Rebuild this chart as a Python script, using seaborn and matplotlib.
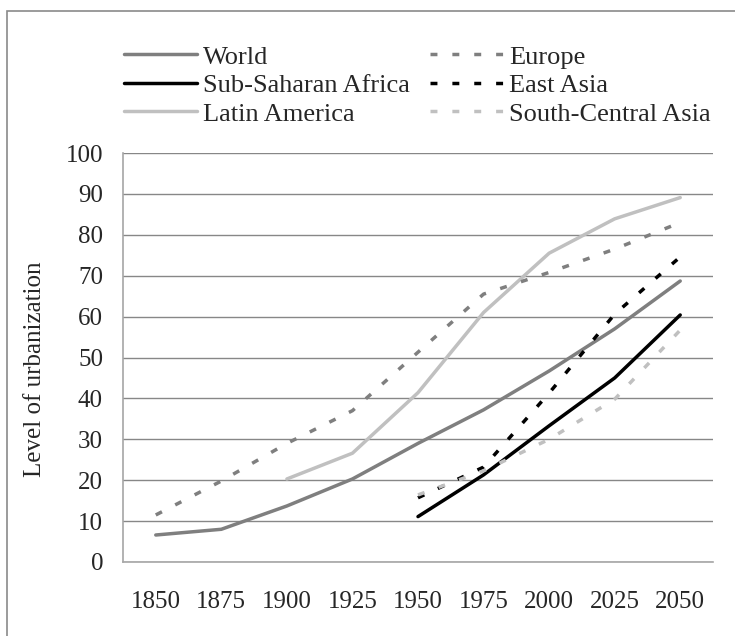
import numpy as np
import pandas as pd
import matplotlib
matplotlib.use("Agg")
import matplotlib.pyplot as plt
import seaborn as sns
from matplotlib.lines import Line2D
from matplotlib.patches import Rectangle

# data
years = ["1850", "1875", "1900", "1925", "1950", "1975", "2000", "2025", "2050"]
nan = np.nan
world = [6.6, 8.0, 13.7, 20.3, 29.0, 37.2, 46.7, 57.0, 68.7]
europe = [11.5, 19.8, 29.0, 37.0, 51.3, 65.5, 70.8, 76.5, 83.0]
latin_america = [nan, nan, 20.3, 26.6, 41.4, 61.0, 75.5, 83.9, 89.1]
sub_saharan = [nan, nan, nan, nan, 11.1, 21.3, 33.3, 45.0, 60.4]
east_asia = [nan, nan, nan, nan, 15.7, 23.2, 41.3, 60.6, 74.6]
south_central = [nan, nan, nan, nan, 16.4, 22.3, 30.0, 39.8, 56.7]

series = {
    "World": world,
    "Sub-Saharan Africa": sub_saharan,
    "Latin America": latin_america,
    "Europe": europe,
    "East Asia": east_asia,
    "South-Central Asia": south_central,
}

rows = []
for name, vals in series.items():
    for i, v in enumerate(vals):
        rows.append({"pos": i, "value": v, "region": name})
df = pd.DataFrame(rows)

palette = {
    "World": "#7f7f7f",
    "Sub-Saharan Africa": "#000000",
    "Latin America": "#c0c0c0",
    "Europe": "#7f7f7f",
    "East Asia": "#000000",
    "South-Central Asia": "#c0c0c0",
}
dash = (2.0, 4.3)
dashes = {
    "World": "",
    "Sub-Saharan Africa": "",
    "Latin America": "",
    "Europe": dash,
    "East Asia": dash,
    "South-Central Asia": dash,
}

sns.set_style("white")
plt.rcParams["font.family"] = ["Liberation Serif", "DejaVu Serif"]

fig = plt.figure(figsize=(7.35, 6.36), dpi=100)
ax = fig.add_axes([123 / 735, 1 - 562 / 636, 590 / 735, 409 / 636])

lw = 2.5
sns.lineplot(
    data=df, x="pos", y="value", hue="region", style="region",
    palette=palette, dashes=dashes, linewidth=lw,
    legend=False, ax=ax, sort=True,
)

# axes styling
ax.set_xlim(-0.5, len(years) - 0.5)
ax.set_ylim(0, 100)
ax.set_yticks(range(0, 101, 10))
ax.yaxis.grid(True, color="#878787", linewidth=1.0)
ax.set_axisbelow(True)
for s in ["top", "right"]:
    ax.spines[s].set_visible(False)
for s in ["left", "bottom"]:
    ax.spines[s].set_color("#a6a6a6")
    ax.spines[s].set_linewidth(1.2)

ax.set_xticks(np.arange(-0.5, len(years), 1.0))
ax.set_xticklabels([])
ax.set_xticks(np.arange(len(years)), minor=True)
ax.set_xticklabels(years, minor=True)
ax.tick_params(axis="x", which="major", length=5.5, color="#a6a6a6", width=1.2)
ax.tick_params(axis="x", which="minor", length=0, pad=21, labelsize=18)
ax.tick_params(axis="y", length=5.8, color="#a6a6a6", width=1.2, pad=8.6, labelsize=18)

ax.set_xlabel("")
ax.set_ylabel("")
fig.text(35 / 735, 1 - 369 / 636, "Level of urbanization", rotation=90,
         ha="center", va="center", fontsize=18)

# legend
handles = [
    Line2D([], [], color=palette[n], linewidth=lw,
           linestyle=(0, dashes[n]) if dashes[n] else "-")
    for n in series
]
fig.legend(
    handles, list(series.keys()), ncol=2, frameon=False,
    loc="upper left", bbox_to_anchor=(111 / 735, 1 - 32 / 636),
    fontsize=19, handlelength=2.75, handletextpad=0.25,
    columnspacing=0.75, labelspacing=0.19, borderpad=0.0,
)

# outer frame
fig.patches.append(Rectangle((7 / 735, -0.05), 1.1, 1 - 11 / 636 + 0.05,
                             transform=fig.transFigure, fill=False,
                             edgecolor="#8a8a8a", linewidth=1.2))

fig.savefig("out.png", dpi=100)
